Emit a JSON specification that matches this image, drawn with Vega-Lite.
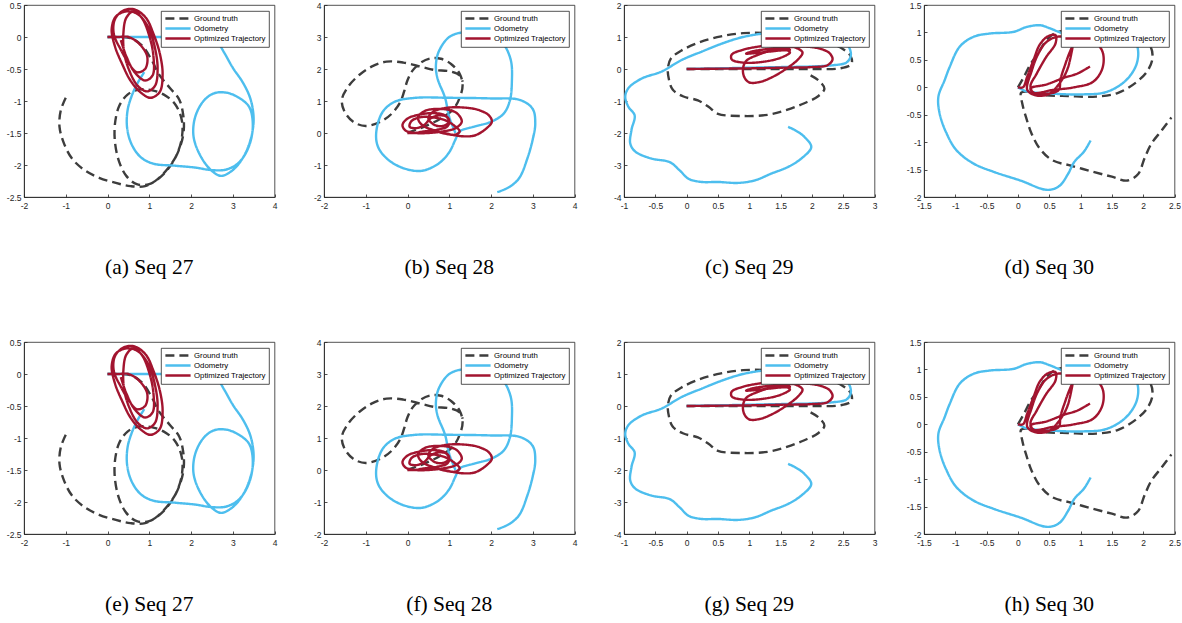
{
"$schema": "https://vega.github.io/schema/vega-lite/v6.json",
"background": "white",
"padding": {"left": 5, "top": 0, "right": 0, "bottom": 0},
"datasets": {
"seq27": [
{"s":"Ground truth","i":0,"x":0,"y":0},{"s":"Ground truth","i":1,"x":0.3,"y":0},{"s":"Ground truth","i":2,"x":0.6,"y":-0.03},{"s":"Ground truth","i":3,"x":0.85,"y":-0.15},{"s":"Ground truth","i":4,"x":1.05,"y":-0.35},{"s":"Ground truth","i":5,"x":1.25,"y":-0.6},{"s":"Ground truth","i":6,"x":1.5,"y":-0.8},{"s":"Ground truth","i":7,"x":1.72,"y":-0.98},{"s":"Ground truth","i":8,"x":1.82,"y":-1.25},{"s":"Ground truth","i":9,"x":1.82,"y":-1.5},{"s":"Ground truth","i":10,"x":1.72,"y":-1.75},{"s":"Ground truth","i":11,"x":1.55,"y":-1.97},{"s":"Ground truth","i":12,"x":1.3,"y":-2.17},{"s":"Ground truth","i":13,"x":1.0,"y":-2.3},{"s":"Ground truth","i":14,"x":0.7,"y":-2.3},{"s":"Ground truth","i":15,"x":0.45,"y":-2.17},{"s":"Ground truth","i":16,"x":0.28,"y":-1.95},{"s":"Ground truth","i":17,"x":0.18,"y":-1.65},{"s":"Ground truth","i":18,"x":0.18,"y":-1.35},{"s":"Ground truth","i":19,"x":0.28,"y":-1.08},{"s":"Ground truth","i":20,"x":0.48,"y":-0.9},{"s":"Ground truth","i":21,"x":0.75,"y":-0.82},{"s":"Ground truth","i":22,"x":1.05,"y":-0.83},{"s":"Ground truth","i":23,"x":1.35,"y":-0.9},{"s":"Ground truth","i":24,"x":1.62,"y":-1.05},{"s":"Ground truth","i":25,"x":1.78,"y":-1.3},{"s":"Ground truth","i":26,"x":1.78,"y":-1.58},{"s":"Ground truth","i":27,"x":1.65,"y":-1.85},{"s":"Ground truth","i":28,"x":1.45,"y":-2.05},{"s":"Ground truth","i":29,"x":1.2,"y":-2.22},{"s":"Ground truth","i":30,"x":0.9,"y":-2.33},{"s":"Ground truth","i":31,"x":0.55,"y":-2.33},{"s":"Ground truth","i":32,"x":0.2,"y":-2.28},{"s":"Ground truth","i":33,"x":-0.2,"y":-2.2},{"s":"Ground truth","i":34,"x":-0.55,"y":-2.08},{"s":"Ground truth","i":35,"x":-0.85,"y":-1.9},{"s":"Ground truth","i":36,"x":-1.05,"y":-1.65},{"s":"Ground truth","i":37,"x":-1.15,"y":-1.4},{"s":"Ground truth","i":38,"x":-1.12,"y":-1.15},{"s":"Ground truth","i":39,"x":-1.0,"y":-0.95},
{"s":"Odometry","i":0,"x":0,"y":0},{"s":"Odometry","i":1,"x":0.8,"y":0},{"s":"Odometry","i":2,"x":1.6,"y":0},{"s":"Odometry","i":3,"x":2.4,"y":0},{"s":"Odometry","i":4,"x":2.6,"y":-0.05},{"s":"Odometry","i":5,"x":2.8,"y":-0.25},{"s":"Odometry","i":6,"x":3.0,"y":-0.48},{"s":"Odometry","i":7,"x":3.25,"y":-0.72},{"s":"Odometry","i":8,"x":3.43,"y":-0.98},{"s":"Odometry","i":9,"x":3.5,"y":-1.3},{"s":"Odometry","i":10,"x":3.42,"y":-1.62},{"s":"Odometry","i":11,"x":3.25,"y":-1.88},{"s":"Odometry","i":12,"x":3.0,"y":-2.08},{"s":"Odometry","i":13,"x":2.72,"y":-2.17},{"s":"Odometry","i":14,"x":2.48,"y":-2.08},{"s":"Odometry","i":15,"x":2.22,"y":-1.85},{"s":"Odometry","i":16,"x":2.06,"y":-1.55},{"s":"Odometry","i":17,"x":2.1,"y":-1.25},{"s":"Odometry","i":18,"x":2.3,"y":-1.0},{"s":"Odometry","i":19,"x":2.55,"y":-0.88},{"s":"Odometry","i":20,"x":2.85,"y":-0.87},{"s":"Odometry","i":21,"x":3.15,"y":-0.95},{"s":"Odometry","i":22,"x":3.4,"y":-1.1},{"s":"Odometry","i":23,"x":3.48,"y":-1.4},{"s":"Odometry","i":24,"x":3.38,"y":-1.72},{"s":"Odometry","i":25,"x":3.15,"y":-1.96},{"s":"Odometry","i":26,"x":2.85,"y":-2.07},{"s":"Odometry","i":27,"x":2.5,"y":-2.08},{"s":"Odometry","i":28,"x":2.1,"y":-2.04},{"s":"Odometry","i":29,"x":1.6,"y":-2.01},{"s":"Odometry","i":30,"x":1.1,"y":-1.98},{"s":"Odometry","i":31,"x":0.8,"y":-1.88},{"s":"Odometry","i":32,"x":0.58,"y":-1.68},{"s":"Odometry","i":33,"x":0.47,"y":-1.42},{"s":"Odometry","i":34,"x":0.48,"y":-1.15},{"s":"Odometry","i":35,"x":0.58,"y":-0.92},{"s":"Odometry","i":36,"x":0.72,"y":-0.72},{"s":"Odometry","i":37,"x":0.88,"y":-0.55},
{"s":"Optimized Trajectory","i":0,"x":0,"y":0},{"s":"Optimized Trajectory","i":1,"x":0.25,"y":0},{"s":"Optimized Trajectory","i":2,"x":0.5,"y":0.0},{"s":"Optimized Trajectory","i":3,"x":0.75,"y":-0.1},{"s":"Optimized Trajectory","i":4,"x":0.95,"y":-0.3},{"s":"Optimized Trajectory","i":5,"x":0.9,"y":-0.5},{"s":"Optimized Trajectory","i":6,"x":0.7,"y":-0.55},{"s":"Optimized Trajectory","i":7,"x":0.5,"y":-0.4},{"s":"Optimized Trajectory","i":8,"x":0.32,"y":-0.2},{"s":"Optimized Trajectory","i":9,"x":0.15,"y":0.05},{"s":"Optimized Trajectory","i":10,"x":0.18,"y":0.28},{"s":"Optimized Trajectory","i":11,"x":0.4,"y":0.42},{"s":"Optimized Trajectory","i":12,"x":0.65,"y":0.43},{"s":"Optimized Trajectory","i":13,"x":0.92,"y":0.3},{"s":"Optimized Trajectory","i":14,"x":1.1,"y":0.05},{"s":"Optimized Trajectory","i":15,"x":1.25,"y":-0.25},{"s":"Optimized Trajectory","i":16,"x":1.32,"y":-0.58},{"s":"Optimized Trajectory","i":17,"x":1.25,"y":-0.86},{"s":"Optimized Trajectory","i":18,"x":1.03,"y":-0.95},{"s":"Optimized Trajectory","i":19,"x":0.8,"y":-0.87},{"s":"Optimized Trajectory","i":20,"x":0.55,"y":-0.68},{"s":"Optimized Trajectory","i":21,"x":0.35,"y":-0.42},{"s":"Optimized Trajectory","i":22,"x":0.18,"y":-0.15},{"s":"Optimized Trajectory","i":23,"x":0.1,"y":0.12},{"s":"Optimized Trajectory","i":24,"x":0.2,"y":0.32},{"s":"Optimized Trajectory","i":25,"x":0.45,"y":0.4},{"s":"Optimized Trajectory","i":26,"x":0.72,"y":0.36},{"s":"Optimized Trajectory","i":27,"x":0.98,"y":0.15},{"s":"Optimized Trajectory","i":28,"x":1.14,"y":-0.18},{"s":"Optimized Trajectory","i":29,"x":1.2,"y":-0.5},{"s":"Optimized Trajectory","i":30,"x":1.14,"y":-0.76},{"s":"Optimized Trajectory","i":31,"x":0.95,"y":-0.85},{"s":"Optimized Trajectory","i":32,"x":0.72,"y":-0.76},{"s":"Optimized Trajectory","i":33,"x":0.52,"y":-0.52},{"s":"Optimized Trajectory","i":34,"x":0.4,"y":-0.25},{"s":"Optimized Trajectory","i":35,"x":0.38,"y":0.05},{"s":"Optimized Trajectory","i":36,"x":0.45,"y":0.3},{"s":"Optimized Trajectory","i":37,"x":0.62,"y":0.4},{"s":"Optimized Trajectory","i":38,"x":0.82,"y":0.3},{"s":"Optimized Trajectory","i":39,"x":1.0,"y":0.02},{"s":"Optimized Trajectory","i":40,"x":1.1,"y":-0.3},{"s":"Optimized Trajectory","i":41,"x":1.08,"y":-0.6},{"s":"Optimized Trajectory","i":42,"x":0.9,"y":-0.68},{"s":"Optimized Trajectory","i":43,"x":0.65,"y":-0.55},{"s":"Optimized Trajectory","i":44,"x":0.45,"y":-0.3},{"s":"Optimized Trajectory","i":45,"x":0.32,"y":-0.05}
],
"seq28": [
{"s":"Ground truth","i":0,"x":0,"y":0},{"s":"Ground truth","i":1,"x":0.4,"y":0.2},{"s":"Ground truth","i":2,"x":0.8,"y":0.45},{"s":"Ground truth","i":3,"x":1.1,"y":0.75},{"s":"Ground truth","i":4,"x":1.25,"y":1.1},{"s":"Ground truth","i":5,"x":1.32,"y":1.5},{"s":"Ground truth","i":6,"x":1.25,"y":1.85},{"s":"Ground truth","i":7,"x":1.05,"y":2.15},{"s":"Ground truth","i":8,"x":0.8,"y":2.32},{"s":"Ground truth","i":9,"x":0.55,"y":2.33},{"s":"Ground truth","i":10,"x":0.32,"y":2.2},{"s":"Ground truth","i":11,"x":0.12,"y":1.95},{"s":"Ground truth","i":12,"x":0.0,"y":1.65},{"s":"Ground truth","i":13,"x":-0.08,"y":1.3},{"s":"Ground truth","i":14,"x":-0.18,"y":0.95},{"s":"Ground truth","i":15,"x":-0.38,"y":0.6},{"s":"Ground truth","i":16,"x":-0.65,"y":0.35},{"s":"Ground truth","i":17,"x":-1.0,"y":0.22},{"s":"Ground truth","i":18,"x":-1.3,"y":0.35},{"s":"Ground truth","i":19,"x":-1.52,"y":0.7},{"s":"Ground truth","i":20,"x":-1.57,"y":1.05},{"s":"Ground truth","i":21,"x":-1.42,"y":1.45},{"s":"Ground truth","i":22,"x":-1.15,"y":1.82},{"s":"Ground truth","i":23,"x":-0.85,"y":2.08},{"s":"Ground truth","i":24,"x":-0.5,"y":2.23},{"s":"Ground truth","i":25,"x":-0.1,"y":2.2},{"s":"Ground truth","i":26,"x":0.3,"y":2.08},{"s":"Ground truth","i":27,"x":0.65,"y":1.97},{"s":"Ground truth","i":28,"x":1.0,"y":1.93},{"s":"Ground truth","i":29,"x":1.25,"y":1.8},{"s":"Ground truth","i":30,"x":1.32,"y":1.6},
{"s":"Odometry","i":0,"x":1.15,"y":0},{"s":"Odometry","i":1,"x":1.0,"y":0.5},{"s":"Odometry","i":2,"x":0.9,"y":1.1},{"s":"Odometry","i":3,"x":0.72,"y":1.7},{"s":"Odometry","i":4,"x":0.68,"y":2.1},{"s":"Odometry","i":5,"x":0.75,"y":2.55},{"s":"Odometry","i":6,"x":1.0,"y":3.0},{"s":"Odometry","i":7,"x":1.35,"y":3.15},{"s":"Odometry","i":8,"x":1.8,"y":3.12},{"s":"Odometry","i":9,"x":2.25,"y":2.85},{"s":"Odometry","i":10,"x":2.47,"y":2.3},{"s":"Odometry","i":11,"x":2.5,"y":1.6},{"s":"Odometry","i":12,"x":2.45,"y":1.0},{"s":"Odometry","i":13,"x":2.3,"y":0.6},{"s":"Odometry","i":14,"x":2.0,"y":0.35},{"s":"Odometry","i":15,"x":1.6,"y":0.2},{"s":"Odometry","i":16,"x":1.25,"y":0.05},{"s":"Odometry","i":17,"x":1.15,"y":-0.2},{"s":"Odometry","i":18,"x":1.0,"y":-0.6},{"s":"Odometry","i":19,"x":0.75,"y":-0.95},{"s":"Odometry","i":20,"x":0.35,"y":-1.18},{"s":"Odometry","i":21,"x":-0.05,"y":-1.12},{"s":"Odometry","i":22,"x":-0.45,"y":-0.85},{"s":"Odometry","i":23,"x":-0.7,"y":-0.45},{"s":"Odometry","i":24,"x":-0.75,"y":0.0},{"s":"Odometry","i":25,"x":-0.6,"y":0.65},{"s":"Odometry","i":26,"x":-0.3,"y":0.98},{"s":"Odometry","i":27,"x":0.2,"y":1.1},{"s":"Odometry","i":28,"x":1.0,"y":1.1},{"s":"Odometry","i":29,"x":2.0,"y":1.08},{"s":"Odometry","i":30,"x":2.7,"y":1.03},{"s":"Odometry","i":31,"x":3.0,"y":0.75},{"s":"Odometry","i":32,"x":3.06,"y":0.3},{"s":"Odometry","i":33,"x":3.0,"y":-0.2},{"s":"Odometry","i":34,"x":2.87,"y":-0.8},{"s":"Odometry","i":35,"x":2.68,"y":-1.4},{"s":"Odometry","i":36,"x":2.45,"y":-1.68},{"s":"Odometry","i":37,"x":2.15,"y":-1.85},
{"s":"Optimized Trajectory","i":0,"x":0,"y":0},{"s":"Optimized Trajectory","i":1,"x":0.15,"y":0},{"s":"Optimized Trajectory","i":2,"x":0.4,"y":0.05},{"s":"Optimized Trajectory","i":3,"x":0.7,"y":0.1},{"s":"Optimized Trajectory","i":4,"x":0.95,"y":0.2},{"s":"Optimized Trajectory","i":5,"x":1.0,"y":0.35},{"s":"Optimized Trajectory","i":6,"x":0.9,"y":0.55},{"s":"Optimized Trajectory","i":7,"x":0.65,"y":0.62},{"s":"Optimized Trajectory","i":8,"x":0.3,"y":0.58},{"s":"Optimized Trajectory","i":9,"x":0.0,"y":0.45},{"s":"Optimized Trajectory","i":10,"x":-0.12,"y":0.25},{"s":"Optimized Trajectory","i":11,"x":-0.05,"y":0.08},{"s":"Optimized Trajectory","i":12,"x":0.2,"y":0.0},{"s":"Optimized Trajectory","i":13,"x":0.5,"y":0.0},{"s":"Optimized Trajectory","i":14,"x":0.85,"y":0.05},{"s":"Optimized Trajectory","i":15,"x":1.15,"y":0.15},{"s":"Optimized Trajectory","i":16,"x":1.3,"y":0.35},{"s":"Optimized Trajectory","i":17,"x":1.2,"y":0.6},{"s":"Optimized Trajectory","i":18,"x":1.0,"y":0.72},{"s":"Optimized Trajectory","i":19,"x":0.65,"y":0.75},{"s":"Optimized Trajectory","i":20,"x":0.4,"y":0.68},{"s":"Optimized Trajectory","i":21,"x":0.25,"y":0.48},{"s":"Optimized Trajectory","i":22,"x":0.35,"y":0.25},{"s":"Optimized Trajectory","i":23,"x":0.6,"y":0.1},{"s":"Optimized Trajectory","i":24,"x":0.95,"y":-0.02},{"s":"Optimized Trajectory","i":25,"x":1.3,"y":-0.1},{"s":"Optimized Trajectory","i":26,"x":1.6,"y":-0.08},{"s":"Optimized Trajectory","i":27,"x":1.85,"y":0.1},{"s":"Optimized Trajectory","i":28,"x":2.02,"y":0.35},{"s":"Optimized Trajectory","i":29,"x":1.95,"y":0.55},{"s":"Optimized Trajectory","i":30,"x":1.7,"y":0.72},{"s":"Optimized Trajectory","i":31,"x":1.3,"y":0.8},{"s":"Optimized Trajectory","i":32,"x":0.9,"y":0.78},{"s":"Optimized Trajectory","i":33,"x":0.6,"y":0.65},{"s":"Optimized Trajectory","i":34,"x":0.5,"y":0.45},{"s":"Optimized Trajectory","i":35,"x":0.65,"y":0.25},{"s":"Optimized Trajectory","i":36,"x":0.85,"y":0.22},{"s":"Optimized Trajectory","i":37,"x":1.0,"y":0.35},{"s":"Optimized Trajectory","i":38,"x":0.95,"y":0.5},{"s":"Optimized Trajectory","i":39,"x":0.75,"y":0.55},{"s":"Optimized Trajectory","i":40,"x":0.55,"y":0.45},{"s":"Optimized Trajectory","i":41,"x":0.4,"y":0.25},{"s":"Optimized Trajectory","i":42,"x":0.2,"y":0.15},{"s":"Optimized Trajectory","i":43,"x":0.05,"y":0.2},{"s":"Optimized Trajectory","i":44,"x":0.1,"y":0.38},{"s":"Optimized Trajectory","i":45,"x":0.35,"y":0.5},{"s":"Optimized Trajectory","i":46,"x":0.65,"y":0.48},{"s":"Optimized Trajectory","i":47,"x":0.9,"y":0.4},{"s":"Optimized Trajectory","i":48,"x":1.1,"y":0.25},{"s":"Optimized Trajectory","i":49,"x":1.25,"y":0.05},{"s":"Optimized Trajectory","i":50,"x":1.15,"y":-0.05},{"s":"Optimized Trajectory","i":51,"x":0.9,"y":-0.02},{"s":"Optimized Trajectory","i":52,"x":0.7,"y":0.05}
],
"seq29": [
{"s":"Ground truth","i":0,"x":0,"y":0},{"s":"Ground truth","i":1,"x":0.5,"y":0},{"s":"Ground truth","i":2,"x":1.0,"y":0},{"s":"Ground truth","i":3,"x":1.5,"y":0},{"s":"Ground truth","i":4,"x":2.0,"y":0},{"s":"Ground truth","i":5,"x":2.45,"y":0.02},{"s":"Ground truth","i":6,"x":2.63,"y":0.15},{"s":"Ground truth","i":7,"x":2.62,"y":0.4},{"s":"Ground truth","i":8,"x":2.45,"y":0.68},{"s":"Ground truth","i":9,"x":2.15,"y":0.9},{"s":"Ground truth","i":10,"x":1.75,"y":1.05},{"s":"Ground truth","i":11,"x":1.3,"y":1.12},{"s":"Ground truth","i":12,"x":0.9,"y":1.12},{"s":"Ground truth","i":13,"x":0.55,"y":1.02},{"s":"Ground truth","i":14,"x":0.2,"y":0.83},{"s":"Ground truth","i":15,"x":-0.08,"y":0.58},{"s":"Ground truth","i":16,"x":-0.25,"y":0.33},{"s":"Ground truth","i":17,"x":-0.3,"y":0.0},{"s":"Ground truth","i":18,"x":-0.28,"y":-0.35},{"s":"Ground truth","i":19,"x":-0.22,"y":-0.65},{"s":"Ground truth","i":20,"x":-0.05,"y":-0.86},{"s":"Ground truth","i":21,"x":0.18,"y":-0.98},{"s":"Ground truth","i":22,"x":0.35,"y":-1.18},{"s":"Ground truth","i":23,"x":0.5,"y":-1.4},{"s":"Ground truth","i":24,"x":0.9,"y":-1.47},{"s":"Ground truth","i":25,"x":1.3,"y":-1.43},{"s":"Ground truth","i":26,"x":1.6,"y":-1.28},{"s":"Ground truth","i":27,"x":1.88,"y":-1.07},{"s":"Ground truth","i":28,"x":2.1,"y":-0.85},{"s":"Ground truth","i":29,"x":2.2,"y":-0.62},{"s":"Ground truth","i":30,"x":2.12,"y":-0.38},{"s":"Ground truth","i":31,"x":1.98,"y":-0.2},
{"s":"Odometry","i":0,"x":0,"y":0},{"s":"Odometry","i":1,"x":0.5,"y":0.02},{"s":"Odometry","i":2,"x":1.0,"y":0.04},{"s":"Odometry","i":3,"x":1.5,"y":0.06},{"s":"Odometry","i":4,"x":2.0,"y":0.08},{"s":"Odometry","i":5,"x":2.35,"y":0.12},{"s":"Odometry","i":6,"x":2.55,"y":0.2},{"s":"Odometry","i":7,"x":2.62,"y":0.4},{"s":"Odometry","i":8,"x":2.6,"y":0.65},{"s":"Odometry","i":9,"x":2.5,"y":0.85},{"s":"Odometry","i":10,"x":2.25,"y":1.02},{"s":"Odometry","i":11,"x":1.9,"y":1.1},{"s":"Odometry","i":12,"x":1.5,"y":1.12},{"s":"Odometry","i":13,"x":1.2,"y":1.1},{"s":"Odometry","i":14,"x":0.9,"y":1.0},{"s":"Odometry","i":15,"x":0.6,"y":0.82},{"s":"Odometry","i":16,"x":0.25,"y":0.55},{"s":"Odometry","i":17,"x":-0.08,"y":0.28},{"s":"Odometry","i":18,"x":-0.4,"y":-0.08},{"s":"Odometry","i":19,"x":-0.72,"y":-0.3},{"s":"Odometry","i":20,"x":-0.93,"y":-0.6},{"s":"Odometry","i":21,"x":-0.98,"y":-0.87},{"s":"Odometry","i":22,"x":-0.93,"y":-1.18},{"s":"Odometry","i":23,"x":-0.83,"y":-1.45},{"s":"Odometry","i":24,"x":-0.88,"y":-1.9},{"s":"Odometry","i":25,"x":-0.9,"y":-2.33},{"s":"Odometry","i":26,"x":-0.82,"y":-2.58},{"s":"Odometry","i":27,"x":-0.56,"y":-2.8},{"s":"Odometry","i":28,"x":-0.27,"y":-2.91},{"s":"Odometry","i":29,"x":-0.11,"y":-3.17},{"s":"Odometry","i":30,"x":0.03,"y":-3.43},{"s":"Odometry","i":31,"x":0.24,"y":-3.53},{"s":"Odometry","i":32,"x":0.5,"y":-3.53},{"s":"Odometry","i":33,"x":0.82,"y":-3.56},{"s":"Odometry","i":34,"x":1.09,"y":-3.48},{"s":"Odometry","i":35,"x":1.35,"y":-3.27},{"s":"Odometry","i":36,"x":1.62,"y":-3.06},{"s":"Odometry","i":37,"x":1.83,"y":-2.8},{"s":"Odometry","i":38,"x":1.99,"y":-2.44},{"s":"Odometry","i":39,"x":1.88,"y":-2.12},{"s":"Odometry","i":40,"x":1.73,"y":-1.91},{"s":"Odometry","i":41,"x":1.62,"y":-1.81},
{"s":"Optimized Trajectory","i":0,"x":0,"y":0},{"s":"Optimized Trajectory","i":1,"x":0.5,"y":0.01},{"s":"Optimized Trajectory","i":2,"x":1.0,"y":0.02},{"s":"Optimized Trajectory","i":3,"x":1.5,"y":0.04},{"s":"Optimized Trajectory","i":4,"x":2.0,"y":0.06},{"s":"Optimized Trajectory","i":5,"x":2.25,"y":0.12},{"s":"Optimized Trajectory","i":6,"x":2.33,"y":0.3},{"s":"Optimized Trajectory","i":7,"x":2.28,"y":0.5},{"s":"Optimized Trajectory","i":8,"x":2.1,"y":0.65},{"s":"Optimized Trajectory","i":9,"x":1.8,"y":0.7},{"s":"Optimized Trajectory","i":10,"x":1.45,"y":0.62},{"s":"Optimized Trajectory","i":11,"x":1.15,"y":0.45},{"s":"Optimized Trajectory","i":12,"x":0.95,"y":0.25},{"s":"Optimized Trajectory","i":13,"x":0.9,"y":0.0},{"s":"Optimized Trajectory","i":14,"x":0.92,"y":-0.25},{"s":"Optimized Trajectory","i":15,"x":1.0,"y":-0.42},{"s":"Optimized Trajectory","i":16,"x":1.18,"y":-0.4},{"s":"Optimized Trajectory","i":17,"x":1.42,"y":-0.2},{"s":"Optimized Trajectory","i":18,"x":1.62,"y":0.05},{"s":"Optimized Trajectory","i":19,"x":1.78,"y":0.3},{"s":"Optimized Trajectory","i":20,"x":1.85,"y":0.52},{"s":"Optimized Trajectory","i":21,"x":1.72,"y":0.68},{"s":"Optimized Trajectory","i":22,"x":1.45,"y":0.75},{"s":"Optimized Trajectory","i":23,"x":1.15,"y":0.7},{"s":"Optimized Trajectory","i":24,"x":0.9,"y":0.6},{"s":"Optimized Trajectory","i":25,"x":0.72,"y":0.45},{"s":"Optimized Trajectory","i":26,"x":0.72,"y":0.3},{"s":"Optimized Trajectory","i":27,"x":0.9,"y":0.2},{"s":"Optimized Trajectory","i":28,"x":1.2,"y":0.22},{"s":"Optimized Trajectory","i":29,"x":1.5,"y":0.35},{"s":"Optimized Trajectory","i":30,"x":1.65,"y":0.52},{"s":"Optimized Trajectory","i":31,"x":1.55,"y":0.62},{"s":"Optimized Trajectory","i":32,"x":1.3,"y":0.62},{"s":"Optimized Trajectory","i":33,"x":1.05,"y":0.55},{"s":"Optimized Trajectory","i":34,"x":0.95,"y":0.48},{"s":"Optimized Trajectory","i":35,"x":1.2,"y":0.52},{"s":"Optimized Trajectory","i":36,"x":1.5,"y":0.58},{"s":"Optimized Trajectory","i":37,"x":1.65,"y":0.6},{"s":"Optimized Trajectory","i":38,"x":1.5,"y":0.66},{"s":"Optimized Trajectory","i":39,"x":1.2,"y":0.6}
],
"seq30": [
{"s":"Ground truth","i":0,"x":0,"y":0},{"s":"Ground truth","i":1,"x":0.1,"y":0.2},{"s":"Ground truth","i":2,"x":0.2,"y":0.42},{"s":"Ground truth","i":3,"x":0.32,"y":0.62},{"s":"Ground truth","i":4,"x":0.45,"y":0.85},{"s":"Ground truth","i":5,"x":0.58,"y":0.98},{"s":"Ground truth","i":6,"x":0.8,"y":1.05},{"s":"Ground truth","i":7,"x":1.2,"y":1.08},{"s":"Ground truth","i":8,"x":1.6,"y":1.05},{"s":"Ground truth","i":9,"x":1.9,"y":0.95},{"s":"Ground truth","i":10,"x":2.1,"y":0.78},{"s":"Ground truth","i":11,"x":2.15,"y":0.55},{"s":"Ground truth","i":12,"x":2.08,"y":0.32},{"s":"Ground truth","i":13,"x":1.9,"y":0.1},{"s":"Ground truth","i":14,"x":1.6,"y":-0.1},{"s":"Ground truth","i":15,"x":1.25,"y":-0.17},{"s":"Ground truth","i":16,"x":0.8,"y":-0.16},{"s":"Ground truth","i":17,"x":0.4,"y":-0.14},{"s":"Ground truth","i":18,"x":0.15,"y":-0.08},{"s":"Ground truth","i":19,"x":0.05,"y":-0.1},{"s":"Ground truth","i":20,"x":0.07,"y":-0.3},{"s":"Ground truth","i":21,"x":0.13,"y":-0.55},{"s":"Ground truth","i":22,"x":0.22,"y":-0.85},{"s":"Ground truth","i":23,"x":0.35,"y":-1.12},{"s":"Ground truth","i":24,"x":0.55,"y":-1.33},{"s":"Ground truth","i":25,"x":0.85,"y":-1.43},{"s":"Ground truth","i":26,"x":1.2,"y":-1.54},{"s":"Ground truth","i":27,"x":1.5,"y":-1.63},{"s":"Ground truth","i":28,"x":1.75,"y":-1.7},{"s":"Ground truth","i":29,"x":1.92,"y":-1.58},{"s":"Ground truth","i":30,"x":2.02,"y":-1.3},{"s":"Ground truth","i":31,"x":2.13,"y":-1.03},{"s":"Ground truth","i":32,"x":2.3,"y":-0.78},{"s":"Ground truth","i":33,"x":2.45,"y":-0.55},
{"s":"Odometry","i":0,"x":0,"y":0},{"s":"Odometry","i":1,"x":0.1,"y":-0.06},{"s":"Odometry","i":2,"x":0.3,"y":-0.1},{"s":"Odometry","i":3,"x":0.6,"y":-0.12},{"s":"Odometry","i":4,"x":1.0,"y":-0.13},{"s":"Odometry","i":5,"x":1.4,"y":-0.09},{"s":"Odometry","i":6,"x":1.7,"y":0.1},{"s":"Odometry","i":7,"x":1.88,"y":0.38},{"s":"Odometry","i":8,"x":1.92,"y":0.65},{"s":"Odometry","i":9,"x":1.86,"y":0.86},{"s":"Odometry","i":10,"x":1.64,"y":0.98},{"s":"Odometry","i":11,"x":1.27,"y":1.04},{"s":"Odometry","i":12,"x":1.0,"y":1.01},{"s":"Odometry","i":13,"x":0.75,"y":0.98},{"s":"Odometry","i":14,"x":0.5,"y":1.08},{"s":"Odometry","i":15,"x":0.36,"y":1.13},{"s":"Odometry","i":16,"x":0.14,"y":1.1},{"s":"Odometry","i":17,"x":-0.07,"y":1.01},{"s":"Odometry","i":18,"x":-0.45,"y":0.98},{"s":"Odometry","i":19,"x":-0.71,"y":0.92},{"s":"Odometry","i":20,"x":-0.93,"y":0.74},{"s":"Odometry","i":21,"x":-1.09,"y":0.37},{"s":"Odometry","i":22,"x":-1.17,"y":0.13},{"s":"Odometry","i":23,"x":-1.27,"y":-0.17},{"s":"Odometry","i":24,"x":-1.25,"y":-0.48},{"s":"Odometry","i":25,"x":-1.14,"y":-0.84},{"s":"Odometry","i":26,"x":-0.98,"y":-1.15},{"s":"Odometry","i":27,"x":-0.71,"y":-1.39},{"s":"Odometry","i":28,"x":-0.39,"y":-1.54},{"s":"Odometry","i":29,"x":0.04,"y":-1.7},{"s":"Odometry","i":30,"x":0.47,"y":-1.87},{"s":"Odometry","i":31,"x":0.66,"y":-1.8},{"s":"Odometry","i":32,"x":0.8,"y":-1.58},{"s":"Odometry","i":33,"x":0.9,"y":-1.36},{"s":"Odometry","i":34,"x":1.05,"y":-1.18},{"s":"Odometry","i":35,"x":1.16,"y":-0.97},
{"s":"Optimized Trajectory","i":0,"x":0,"y":0},{"s":"Optimized Trajectory","i":1,"x":0.08,"y":0.0},{"s":"Optimized Trajectory","i":2,"x":0.15,"y":0.2},{"s":"Optimized Trajectory","i":3,"x":0.25,"y":0.5},{"s":"Optimized Trajectory","i":4,"x":0.35,"y":0.78},{"s":"Optimized Trajectory","i":5,"x":0.48,"y":0.93},{"s":"Optimized Trajectory","i":6,"x":0.6,"y":0.95},{"s":"Optimized Trajectory","i":7,"x":0.6,"y":0.8},{"s":"Optimized Trajectory","i":8,"x":0.45,"y":0.55},{"s":"Optimized Trajectory","i":9,"x":0.3,"y":0.25},{"s":"Optimized Trajectory","i":10,"x":0.2,"y":0.02},{"s":"Optimized Trajectory","i":11,"x":0.25,"y":-0.1},{"s":"Optimized Trajectory","i":12,"x":0.45,"y":-0.12},{"s":"Optimized Trajectory","i":13,"x":0.65,"y":-0.05},{"s":"Optimized Trajectory","i":14,"x":0.68,"y":0.15},{"s":"Optimized Trajectory","i":15,"x":0.75,"y":0.4},{"s":"Optimized Trajectory","i":16,"x":0.82,"y":0.62},{"s":"Optimized Trajectory","i":17,"x":0.87,"y":0.74},{"s":"Optimized Trajectory","i":18,"x":0.85,"y":0.6},{"s":"Optimized Trajectory","i":19,"x":0.78,"y":0.3},{"s":"Optimized Trajectory","i":20,"x":0.65,"y":0.05},{"s":"Optimized Trajectory","i":21,"x":0.5,"y":-0.12},{"s":"Optimized Trajectory","i":22,"x":0.3,"y":-0.15},{"s":"Optimized Trajectory","i":23,"x":0.15,"y":-0.05},{"s":"Optimized Trajectory","i":24,"x":0.22,"y":0.3},{"s":"Optimized Trajectory","i":25,"x":0.32,"y":0.6},{"s":"Optimized Trajectory","i":26,"x":0.45,"y":0.82},{"s":"Optimized Trajectory","i":27,"x":0.62,"y":0.92},{"s":"Optimized Trajectory","i":28,"x":0.9,"y":0.9},{"s":"Optimized Trajectory","i":29,"x":1.2,"y":0.85},{"s":"Optimized Trajectory","i":30,"x":1.35,"y":0.65},{"s":"Optimized Trajectory","i":31,"x":1.35,"y":0.35},{"s":"Optimized Trajectory","i":32,"x":1.2,"y":0.1},{"s":"Optimized Trajectory","i":33,"x":0.9,"y":0.0},{"s":"Optimized Trajectory","i":34,"x":0.55,"y":-0.05},{"s":"Optimized Trajectory","i":35,"x":0.25,"y":-0.1},{"s":"Optimized Trajectory","i":36,"x":0.2,"y":-0.02},{"s":"Optimized Trajectory","i":37,"x":0.45,"y":0.05},{"s":"Optimized Trajectory","i":38,"x":0.75,"y":0.18},{"s":"Optimized Trajectory","i":39,"x":0.95,"y":0.25},{"s":"Optimized Trajectory","i":40,"x":1.15,"y":0.38}
]
},
"columns": 4,
"spacing": {"row": 145, "column": 49},
"bounds": "flush",
"resolve": {"scale": {"x": "independent", "y": "independent", "color": "independent", "strokeDash": "independent"}, "legend": {"color": "independent", "strokeDash": "independent"}},
"concat": [
{"width": 250.5, "height": 192, "title": "(a) Seq 27", "data": {"name": "seq27"}, "mark": {"type": "line", "strokeWidth": 2.4, "clip": true, "interpolate": "catmull-rom"},
 "encoding": {"x": {"field": "x", "type": "quantitative", "title": null, "scale": {"domain": [-2, 4], "nice": false, "zero": false}, "axis": {"values": [-2,-1,0,1,2,3,4], "format": "~g"}},
  "y": {"field": "y", "type": "quantitative", "title": null, "scale": {"domain": [-2.5, 0.5], "nice": false, "zero": false}, "axis": {"values": [-2.5,-2,-1.5,-1,-0.5,0,0.5], "format": "~g"}},
  "color": {"field": "s", "type": "nominal", "title": null, "scale": {"domain": ["Ground truth","Odometry","Optimized Trajectory"], "range": ["#3d3d3d","#4DBEEE","#A2142F"]}},
  "strokeDash": {"field": "s", "type": "nominal", "title": null, "scale": {"domain": ["Ground truth","Odometry","Optimized Trajectory"], "range": [[9,5],[1,0],[1,0]]}},
  "order": {"field": "i", "type": "quantitative"}}},
{"width": 250.5, "height": 192, "title": "(b) Seq 28", "data": {"name": "seq28"}, "mark": {"type": "line", "strokeWidth": 2.4, "clip": true, "interpolate": "catmull-rom"},
 "encoding": {"x": {"field": "x", "type": "quantitative", "title": null, "scale": {"domain": [-2, 4], "nice": false, "zero": false}, "axis": {"values": [-2,-1,0,1,2,3,4], "format": "~g"}},
  "y": {"field": "y", "type": "quantitative", "title": null, "scale": {"domain": [-2, 4], "nice": false, "zero": false}, "axis": {"values": [-2,-1,0,1,2,3,4], "format": "~g"}},
  "color": {"field": "s", "type": "nominal", "title": null, "scale": {"domain": ["Ground truth","Odometry","Optimized Trajectory"], "range": ["#3d3d3d","#4DBEEE","#A2142F"]}},
  "strokeDash": {"field": "s", "type": "nominal", "title": null, "scale": {"domain": ["Ground truth","Odometry","Optimized Trajectory"], "range": [[9,5],[1,0],[1,0]]}},
  "order": {"field": "i", "type": "quantitative"}}},
{"width": 250.5, "height": 192, "title": "(c) Seq 29", "data": {"name": "seq29"}, "mark": {"type": "line", "strokeWidth": 2.4, "clip": true, "interpolate": "catmull-rom"},
 "encoding": {"x": {"field": "x", "type": "quantitative", "title": null, "scale": {"domain": [-1, 3], "nice": false, "zero": false}, "axis": {"values": [-1,-0.5,0,0.5,1,1.5,2,2.5,3], "format": "~g"}},
  "y": {"field": "y", "type": "quantitative", "title": null, "scale": {"domain": [-4, 2], "nice": false, "zero": false}, "axis": {"values": [-4,-3,-2,-1,0,1,2], "format": "~g"}},
  "color": {"field": "s", "type": "nominal", "title": null, "scale": {"domain": ["Ground truth","Odometry","Optimized Trajectory"], "range": ["#3d3d3d","#4DBEEE","#A2142F"]}},
  "strokeDash": {"field": "s", "type": "nominal", "title": null, "scale": {"domain": ["Ground truth","Odometry","Optimized Trajectory"], "range": [[9,5],[1,0],[1,0]]}},
  "order": {"field": "i", "type": "quantitative"}}},
{"width": 250.5, "height": 192, "title": "(d) Seq 30", "data": {"name": "seq30"}, "mark": {"type": "line", "strokeWidth": 2.4, "clip": true, "interpolate": "catmull-rom"},
 "encoding": {"x": {"field": "x", "type": "quantitative", "title": null, "scale": {"domain": [-1.5, 2.5], "nice": false, "zero": false}, "axis": {"values": [-1.5,-1,-0.5,0,0.5,1,1.5,2,2.5], "format": "~g"}},
  "y": {"field": "y", "type": "quantitative", "title": null, "scale": {"domain": [-2, 1.5], "nice": false, "zero": false}, "axis": {"values": [-2,-1.5,-1,-0.5,0,0.5,1,1.5], "format": "~g"}},
  "color": {"field": "s", "type": "nominal", "title": null, "scale": {"domain": ["Ground truth","Odometry","Optimized Trajectory"], "range": ["#3d3d3d","#4DBEEE","#A2142F"]}},
  "strokeDash": {"field": "s", "type": "nominal", "title": null, "scale": {"domain": ["Ground truth","Odometry","Optimized Trajectory"], "range": [[9,5],[1,0],[1,0]]}},
  "order": {"field": "i", "type": "quantitative"}}},
{"width": 250.5, "height": 192, "title": "(e) Seq 27", "data": {"name": "seq27"}, "mark": {"type": "line", "strokeWidth": 2.4, "clip": true, "interpolate": "catmull-rom"},
 "encoding": {"x": {"field": "x", "type": "quantitative", "title": null, "scale": {"domain": [-2, 4], "nice": false, "zero": false}, "axis": {"values": [-2,-1,0,1,2,3,4], "format": "~g"}},
  "y": {"field": "y", "type": "quantitative", "title": null, "scale": {"domain": [-2.5, 0.5], "nice": false, "zero": false}, "axis": {"values": [-2.5,-2,-1.5,-1,-0.5,0,0.5], "format": "~g"}},
  "color": {"field": "s", "type": "nominal", "title": null, "scale": {"domain": ["Ground truth","Odometry","Optimized Trajectory"], "range": ["#3d3d3d","#4DBEEE","#A2142F"]}},
  "strokeDash": {"field": "s", "type": "nominal", "title": null, "scale": {"domain": ["Ground truth","Odometry","Optimized Trajectory"], "range": [[9,5],[1,0],[1,0]]}},
  "order": {"field": "i", "type": "quantitative"}}},
{"width": 250.5, "height": 192, "title": "(f) Seq 28", "data": {"name": "seq28"}, "mark": {"type": "line", "strokeWidth": 2.4, "clip": true, "interpolate": "catmull-rom"},
 "encoding": {"x": {"field": "x", "type": "quantitative", "title": null, "scale": {"domain": [-2, 4], "nice": false, "zero": false}, "axis": {"values": [-2,-1,0,1,2,3,4], "format": "~g"}},
  "y": {"field": "y", "type": "quantitative", "title": null, "scale": {"domain": [-2, 4], "nice": false, "zero": false}, "axis": {"values": [-2,-1,0,1,2,3,4], "format": "~g"}},
  "color": {"field": "s", "type": "nominal", "title": null, "scale": {"domain": ["Ground truth","Odometry","Optimized Trajectory"], "range": ["#3d3d3d","#4DBEEE","#A2142F"]}},
  "strokeDash": {"field": "s", "type": "nominal", "title": null, "scale": {"domain": ["Ground truth","Odometry","Optimized Trajectory"], "range": [[9,5],[1,0],[1,0]]}},
  "order": {"field": "i", "type": "quantitative"}}},
{"width": 250.5, "height": 192, "title": "(g) Seq 29", "data": {"name": "seq29"}, "mark": {"type": "line", "strokeWidth": 2.4, "clip": true, "interpolate": "catmull-rom"},
 "encoding": {"x": {"field": "x", "type": "quantitative", "title": null, "scale": {"domain": [-1, 3], "nice": false, "zero": false}, "axis": {"values": [-1,-0.5,0,0.5,1,1.5,2,2.5,3], "format": "~g"}},
  "y": {"field": "y", "type": "quantitative", "title": null, "scale": {"domain": [-4, 2], "nice": false, "zero": false}, "axis": {"values": [-4,-3,-2,-1,0,1,2], "format": "~g"}},
  "color": {"field": "s", "type": "nominal", "title": null, "scale": {"domain": ["Ground truth","Odometry","Optimized Trajectory"], "range": ["#3d3d3d","#4DBEEE","#A2142F"]}},
  "strokeDash": {"field": "s", "type": "nominal", "title": null, "scale": {"domain": ["Ground truth","Odometry","Optimized Trajectory"], "range": [[9,5],[1,0],[1,0]]}},
  "order": {"field": "i", "type": "quantitative"}}},
{"width": 250.5, "height": 192, "title": "(h) Seq 30", "data": {"name": "seq30"}, "mark": {"type": "line", "strokeWidth": 2.4, "clip": true, "interpolate": "catmull-rom"},
 "encoding": {"x": {"field": "x", "type": "quantitative", "title": null, "scale": {"domain": [-1.5, 2.5], "nice": false, "zero": false}, "axis": {"values": [-1.5,-1,-0.5,0,0.5,1,1.5,2,2.5], "format": "~g"}},
  "y": {"field": "y", "type": "quantitative", "title": null, "scale": {"domain": [-2, 1.5], "nice": false, "zero": false}, "axis": {"values": [-2,-1.5,-1,-0.5,0,0.5,1,1.5], "format": "~g"}},
  "color": {"field": "s", "type": "nominal", "title": null, "scale": {"domain": ["Ground truth","Odometry","Optimized Trajectory"], "range": ["#3d3d3d","#4DBEEE","#A2142F"]}},
  "strokeDash": {"field": "s", "type": "nominal", "title": null, "scale": {"domain": ["Ground truth","Odometry","Optimized Trajectory"], "range": [[9,5],[1,0],[1,0]]}},
  "order": {"field": "i", "type": "quantitative"}}}
],
"config": {
 "locale": {"number": {"decimal": ".", "thousands": ",", "grouping": [3], "currency": ["$", ""], "minus": "-"}},
 "view": {"stroke": "#262626", "strokeWidth": 0.8},
 "axis": {"labelFont": "Liberation Sans", "labelFontSize": 8.5, "labelColor": "#262626", "tickColor": "#262626", "domainColor": "#262626", "domainWidth": 0.8, "tickWidth": 0.8, "tickSize": -3, "grid": false, "labelFlush": false, "labelOverlap": false, "labelBound": false},
 "axisX": {"labelPadding": 7.5},
 "axisY": {"labelPadding": 6},
 "legend": {"orient": "top-right", "offset": 6, "fillColor": "white", "strokeColor": "#262626", "strokeWidth": 0.8, "padding": 3, "symbolType": "M-4.2,0H4.2", "symbolSize": 36, "symbolStrokeWidth": 2.4, "symbolOffset": 9.5, "labelOffset": 11.5, "labelFont": "Liberation Sans", "labelFontSize": 7.8, "labelColor": "#000000", "rowPadding": -1.5, "labelLimit": 0, "cornerRadius": 0},
 "title": {"font": "Liberation Serif", "fontSize": 21.5, "fontWeight": "normal", "color": "#000000", "orient": "bottom", "anchor": "middle", "offset": 46.5}
}
}
